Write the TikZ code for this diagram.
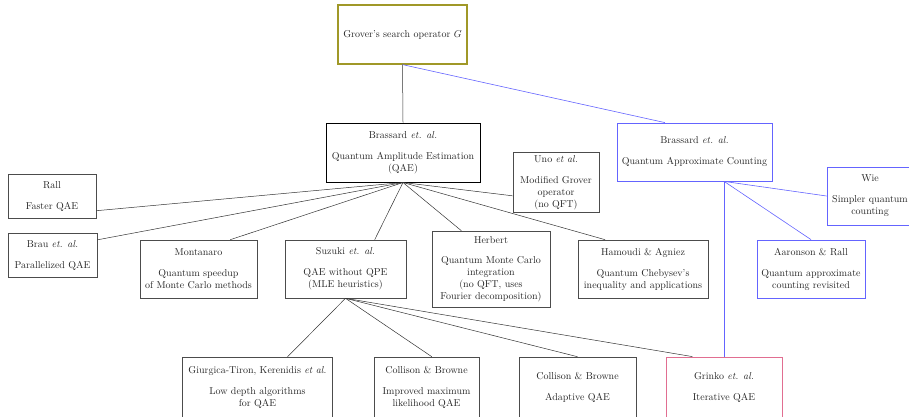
\documentclass[tikz,border=0pt]{standalone}
\usetikzlibrary{calc}
\definecolor{olivebox}{RGB}{160,152,40}
\definecolor{bluebox}{RGB}{100,100,255}
\definecolor{pinkbox}{RGB}{225,110,145}
\begin{document}
\begin{tikzpicture}[x=1pt,y=-1pt,
  box/.style={draw=black!70, line width=0.6pt, align=center, inner sep=1pt, text=black!85},
  edge/.style={draw=black!80, line width=0.5pt},
  bedge/.style={draw=bluebox, line width=0.6pt}]
\useasboundingbox (0,0) rectangle (909,416);
% top
\node[box, draw=olivebox, line width=1.2pt, minimum width=129pt, minimum height=59pt] (grover) at (402.5,34.5) {Grover's search operator $G$};
\node[box, draw=black, line width=1pt, minimum width=154pt, minimum height=59pt] (qae) at (403,152.5) {Brassard \textit{et. al.}\\[9pt]Quantum Amplitude Estimation\\(QAE)};
\node[box, draw=bluebox, line width=0.8pt, minimum width=155pt, minimum height=58pt] (qac) at (694.5,152) {Brassard \textit{et. al.}\\[9pt]Quantum Approximate Counting};
% second row
\node[box, minimum width=86pt, minimum height=60pt] (uno) at (556,182.5) {Uno \textit{et al.}\\[9pt]Modified Grover\\operator\\(no QFT)};
\node[box, minimum width=88pt, minimum height=44pt] (rall) at (52,196) {Rall\\[9pt]Faster QAE};
\node[box, minimum width=89pt, minimum height=44pt] (brau) at (52.5,255) {Brau \textit{et. al.}\\[9pt]Parallelized QAE};
\node[box, minimum width=117pt, minimum height=58pt] (mont) at (198.5,269) {Montanaro\\[9pt]Quantum speedup\\of Monte Carlo methods};
\node[box, minimum width=121pt, minimum height=58pt] (suz) at (345.5,269) {Suzuki \textit{et. al.}\\[9pt]QAE without QPE\\(MLE heuristics)};
\node[box, minimum width=118pt, minimum height=76pt] (herb) at (491,269) {Herbert\\[8pt]Quantum Monte Carlo\\integration\\(no QFT, uses\\Fourier decomposition)};
\node[box, minimum width=130pt, minimum height=58pt] (ham) at (643,269) {Hamoudi \& Agniez\\[9pt]Quantum Chebysev's\\inequality and applications};
\node[box, draw=bluebox, line width=0.8pt, minimum width=86pt, minimum height=58pt] (wie) at (870,196) {Wie\\[9pt]Simpler quantum\\counting};
\node[box, draw=bluebox, line width=0.8pt, minimum width=108pt, minimum height=58pt] (aar) at (811,269) {Aaronson \& Rall\\[9pt]Quantum approximate\\counting revisited};
% bottom row
\node[box, minimum width=150pt, minimum height=61pt] (giu) at (257.5,387.5) {Giurgica-Tiron, Kerenidis \textit{et al.}\\[9pt]Low depth algorithms\\for QAE};
\node[box, minimum width=105pt, minimum height=61pt] (col1) at (426.5,387.5) {Collison \& Browne\\[9pt]Improved maximum\\likelihood QAE};
\node[box, minimum width=117pt, minimum height=61pt] (col2) at (577.5,387.5) {Collison \& Browne\\[9pt]Adaptive QAE};
\node[box, draw=pinkbox, line width=0.8pt, minimum width=116pt, minimum height=61pt] (grin) at (724,387.5) {Grinko \textit{et. al.}\\[9pt]Iterative QAE};
% edges from Grover
\draw[edge] (grover.south) -- (qae.north);
\draw[bedge] (grover.south) -- ($(qac.north west)!0.31!(qac.north east)$);
% edges from QAE
\draw[edge] (qae.south) -- ($(rall.north east)!0.83!(rall.south east)$);
\draw[edge] (qae.south) -- ($(brau.north east)!0.16!(brau.south east)$);
\draw[edge] (qae.south) -- ($(mont.north west)!0.77!(mont.north east)$);
\draw[edge] (qae.south) -- ($(suz.north west)!0.74!(suz.north east)$);
\draw[edge] (qae.south) -- ($(herb.north west)!0.25!(herb.north east)$);
\draw[edge] (qae.south) -- ($(ham.north west)!0.21!(ham.north east)$);
\draw[edge] (qae.south) -- ($(uno.north west)!0.72!(uno.south west)$);
% edges from QAC
\coordinate (qacs) at ($(qac.south west)!0.69!(qac.south east)$);
\draw[bedge] (qacs) -- (wie.west);
\draw[bedge] (qacs) -- (aar.north);
\draw[bedge] (qacs) -- (qacs |- grin.north);
% edges from Suzuki
\draw[edge] (suz.south) -- ($(giu.north west)!0.70!(giu.north east)$);
\draw[edge] (suz.south) -- ($(col1.north west)!0.55!(col1.north east)$);
\draw[edge] (suz.south) -- (col2.north);
\draw[edge] (suz.south) -- ($(grin.north west)!0.23!(grin.north east)$);
\end{tikzpicture}
\end{document}
